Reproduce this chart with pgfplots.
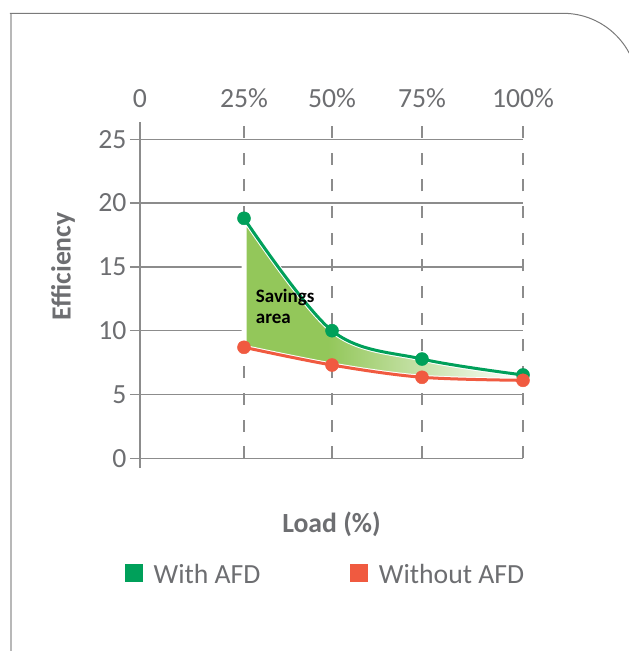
\documentclass[border=0pt]{standalone}
\usepackage{fontspec}
\setmainfont{Carlito}
\usepackage{pgfplots}
\pgfplotsset{compat=1.18}
\usepgfplotslibrary{fillbetween}

\definecolor{txtgray}{HTML}{6D6E71}
\definecolor{gridgray}{HTML}{8C8C8C}
\definecolor{afdgreen}{HTML}{00A05A}
\definecolor{afdred}{HTML}{F05A40}
\definecolor{savefill}{HTML}{93C75A}
\definecolor{framegray}{HTML}{7A7A7A}
\definecolor{framelight}{HTML}{B8B8B8}

% visible part of a horizontal shading is 25bp..75bp
\pgfdeclarehorizontalshading{savings}{100bp}{color(0bp)=(savefill); color(25bp)=(savefill); color(40bp)=(savefill); color(75bp)=(white); color(100bp)=(white)}

\newcommand\bigfont{\fontsize{27.7}{33}\selectfont}

\begin{document}
\begin{tikzpicture}
\begin{scope}
  \clip (-140pt,-192.7pt) rectangle (489pt,458.3pt);
  \draw[framelight, line width=1.8pt] (-129.2pt,-200pt) -- (-129.2pt,445pt);
  \draw[framegray, line width=1pt] (-130pt,445pt) -- (423pt,445pt)
      arc[start angle=90, end angle=0, radius=75pt] -- (498pt,-200pt);
\end{scope}
\begin{axis}[
    at={(0,0)}, anchor=south west,
    x=1pt, y=12.76pt,
    xmin=0, xmax=383, ymin=0, ymax=26.38,
    clip=false,
    axis y line*=left, axis x line*=top,
    x axis line style={draw=none},
    y axis line style={-, gridgray, line width=1.3pt},
    xtick={0,104,192,282,383},
    xticklabels={0,25\%,50\%,75\%,100\%},
    ytick={0,5,...,25},
    xtick style={draw=none},
    ytick style={gridgray, line width=1.3pt},
    tick align=outside, major tick length=10pt,
    xmajorgrids, ymajorgrids,
    x grid style={gridgray, line width=1.3pt, dash pattern=on 12pt off 14.7pt},
    y grid style={gridgray, line width=1.3pt},
    /pgf/number format/assume math mode=true,
    tick label style={font=\bigfont, text=txtgray},
    xlabel={Load (\%)}, ylabel={Efficiency},
    label style={font=\bigfont\bfseries, text=txtgray},
    xlabel style={at={(axis description cs:0.5,-0.195)}, anchor=center},
    ylabel style={at={(axis description cs:-0.201,0.570)}, anchor=center},
    legend style={at={(axis description cs:-0.047,-0.3457)}, anchor=west,
        draw=none, fill=none, font=\bigfont, text=txtgray,
        /tikz/every odd column/.append style={column sep=9pt},
        /tikz/every even column/.append style={column sep=88pt}},
    legend columns=2,
    legend image code/.code={\fill[#1] (0pt,-6.7pt) rectangle (17pt,10.3pt);},
]
\addplot[name path=with, afdgreen, line width=3pt, smooth, tension=0.55,
    mark=*, mark size=6.5pt, mark options={line width=0.5pt}, forget plot]
    coordinates {(104,18.81) (192,10.0) (282,7.78) (383,6.53)};
\addplot[name path=without, afdred, line width=3pt, smooth, tension=0.55,
    mark=*, mark size=6.5pt, mark options={line width=0.5pt}, forget plot]
    coordinates {(104,8.70) (192,7.31) (282,6.35) (383,6.11)};
\addplot[shading=savings, draw=white, line width=5pt, forget plot]
    fill between[of=with and without];
\draw[gridgray, line width=1.3pt] (axis cs:0,0) -- (axis cs:0,-0.74);
\node[anchor=base west, inner sep=0pt, font=\fontsize{19}{22}\selectfont\bfseries]
    at (axis cs:115.7,12.19) {Savings};
\node[anchor=base west, inner sep=0pt, font=\fontsize{19}{22}\selectfont\bfseries]
    at (axis cs:115.7,10.58) {area};
\addlegendimage{afdgreen}
\addlegendentry{With AFD}
\addlegendimage{afdred}
\addlegendentry{Without AFD}
\end{axis}
\pgfresetboundingbox
\useasboundingbox (-140pt,-192.7pt) rectangle (489pt,458.3pt);
\end{tikzpicture}
\end{document}
